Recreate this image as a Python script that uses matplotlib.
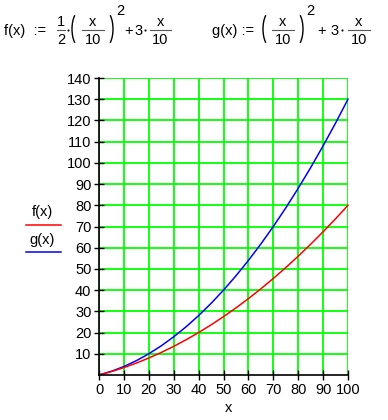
import matplotlib
matplotlib.use("Agg")
import matplotlib.pyplot as plt
from matplotlib.lines import Line2D
from matplotlib.patches import Arc

plt.rcParams['font.family'] = ['Liberation Sans', 'DejaVu Sans']

x_vals = [0, 5, 10, 15, 20, 25, 30, 35, 40, 45, 50, 55, 60, 65, 70, 75, 80, 85, 90, 95, 100]
f_vals = [0, 1.625, 3.5, 5.625, 8, 10.625, 13.5, 16.625, 20, 23.625, 27.5, 31.625, 36,
          40.625, 45.5, 50.625, 56, 61.625, 67.5, 73.625, 80]
g_vals = [0, 1.75, 4, 6.75, 10, 13.75, 18, 22.75, 28, 33.75, 40, 46.75, 54,
          61.75, 70, 78.75, 88, 97.75, 108, 118.75, 130]
x_ticks = [0, 10, 20, 30, 40, 50, 60, 70, 80, 90, 100]
y_ticks = [10, 20, 30, 40, 50, 60, 70, 80, 90, 100, 110, 120, 130, 140]

W, H = 388, 420
fig = plt.figure(figsize=(W / 100, H / 100), dpi=100)
ax = fig.add_axes([99 / W, 1 - 375 / H, (348 - 99) / W, (375 - 78) / H])

ax.set_xlim(0, 100)
ax.set_ylim(0, 140)
ax.set_xticks(x_ticks)
ax.set_yticks(y_ticks)
ax.grid(True, color='#00ff00', linewidth=1.3)
ax.set_axisbelow(True)
for s in ['top', 'right']:
    ax.spines[s].set_visible(False)
for s in ['left', 'bottom']:
    ax.spines[s].set_color('black')
    ax.spines[s].set_linewidth(1.2)
ax.tick_params(direction='inout', length=7, width=1, labelsize=10.5, pad=2, colors='black')

ax.plot(x_vals, g_vals, color='#0000ff', linewidth=1.1, clip_on=False)
ax.plot(x_vals, f_vals, color='#ff0000', linewidth=1.1, clip_on=False)

fig.text(229 / W, 1 - 408 / H, 'x', fontsize=10.5, ha='center', va='center')

# legend labels at left
fig.text(42 / W, 1 - 212 / H, 'f(x)', fontsize=10.5, ha='center', va='center')
fig.add_artist(Line2D([26 / W, 61 / W], [1 - 225 / H, 1 - 225 / H], color='#ff0000', lw=1.1))
fig.text(42 / W, 1 - 240 / H, 'g(x)', fontsize=10.5, ha='center', va='center')
fig.add_artist(Line2D([26 / W, 61 / W], [1 - 252 / H, 1 - 252 / H], color='#0000ff', lw=1.1))


def T(px, py, s, size=10.5, ha='left'):
    fig.text(px / W, 1 - py / H, s, fontsize=size, ha=ha, va='center')


def dot(px, py=30):
    fig.add_artist(Line2D([px / W], [1 - py / H], marker='o', markersize=1.5,
                          markeredgewidth=0, color='black', lw=0))


def frac(x0, x1, num, den, ybar=30):
    fig.add_artist(Line2D([x0 / W, x1 / W], [1 - ybar / H, 1 - ybar / H], color='#555555', lw=0.8))
    T((x0 + x1) / 2, ybar - 8, num, ha='center')
    T((x0 + x1) / 2, ybar + 10, den, ha='center')


def paren(px, left=True):
    # px: x pixel of the outer edge of the bracket curve
    w, h = 16, 36
    if left:
        cx, t1, t2 = px + w / 2, 112, 248
    else:
        cx, t1, t2 = px - w / 2, -68, 68
    fig.add_artist(Arc((cx / W, 1 - 29 / H), w / W, h / H, theta1=t1, theta2=t2,
                       color='black', lw=1.0, transform=fig.transFigure))


# f(x) definition
T(4, 31, 'f(x)  :=')
frac(57, 65, '1', '2')
dot(67.5)
paren(72, True)
frac(82, 104, 'x', '10')
paren(113, False)
T(116, 11, '2', ha='left')
T(128.5, 31, '+', ha='center')
T(139, 31, '3', ha='center')
dot(145)
frac(150, 171, 'x', '10')

# g(x) definition
T(212, 31, 'g(x) :=')
paren(263, True)
frac(272, 294, 'x', '10')
paren(303, False)
T(306, 11, '2', ha='left')
T(322, 31, '+', ha='center')
T(335, 31, '3', ha='center')
dot(341.5)
frac(348, 370, 'x', '10')

fig.savefig('out.png', dpi=100)
